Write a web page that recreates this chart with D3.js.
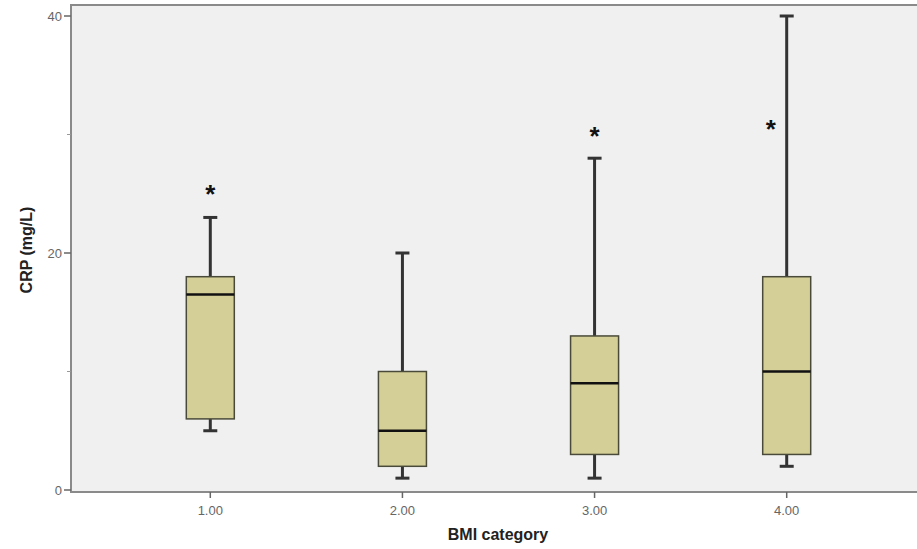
<!DOCTYPE html>
<html>
<head>
<meta charset="utf-8">
<script src="https://cdn.jsdelivr.net/npm/d3@7"></script>
<style>
  html, body { margin: 0; padding: 0; background: #fff; }
  svg { display: block; font-family: Arial, "Liberation Sans", sans-serif; }
</style>
</head>
<body>
<svg id="chart" width="917" height="549"></svg>
<script>
// BMI categories and their box summaries
const categories = ["1.00", "2.00", "3.00", "4.00"];
const lowerWhisker = [5, 1, 1, 2];
const q1 = [6, 2, 3, 3];
const median = [16.5, 5, 9, 10];
const q3 = [18, 10, 13, 18];
const upperWhisker = [23, 20, 28, 40];
// extreme outliers (SPSS star markers): [category index, value]
const extremes = [[0, 25.2], [2, 30.1], [3, 30.7]];
const yMajorTicks = [0, 20, 40];
const yMinorTicks = [10, 30];

const W = 917, H = 549;
const plot = { left: 71, top: 5, right: 926, bottom: 492 };

const svg = d3.select("#chart");

const x = d3.scalePoint().domain(categories).range([plot.left, plot.right]).padding(0.725);
const y = d3.scaleLinear().domain([0, 40]).range([490, 16]);

const BOX_W = 48;

// plot background
svg.append("rect")
  .attr("x", plot.left).attr("y", plot.top)
  .attr("width", plot.right - plot.left).attr("height", plot.bottom - plot.top)
  .attr("fill", "#f0f0f0")
  .attr("stroke", "#8a8a8a").attr("stroke-width", 2);

const boxes = categories.map((c, i) => ({
  c, lo: lowerWhisker[i], q1: q1[i], med: median[i], q3: q3[i], hi: upperWhisker[i]
}));

const g = svg.append("g");

// whiskers
g.selectAll("line.whisker-up").data(boxes).join("line")
  .attr("x1", d => x(d.c)).attr("x2", d => x(d.c))
  .attr("y1", d => y(d.q3)).attr("y2", d => y(d.hi))
  .attr("stroke", "#333").attr("stroke-width", 3);
g.selectAll("line.whisker-down").data(boxes).join("line")
  .attr("x1", d => x(d.c)).attr("x2", d => x(d.c))
  .attr("y1", d => y(d.q1)).attr("y2", d => y(d.lo))
  .attr("stroke", "#333").attr("stroke-width", 3);
// whisker caps
["hi", "lo"].forEach(k => {
  g.selectAll("line.cap-" + k).data(boxes).join("line")
    .attr("x1", d => x(d.c) - 7).attr("x2", d => x(d.c) + 7)
    .attr("y1", d => y(d[k])).attr("y2", d => y(d[k]))
    .attr("stroke", "#333").attr("stroke-width", 3);
});

// boxes
g.selectAll("rect.box").data(boxes).join("rect")
  .attr("x", d => x(d.c) - BOX_W / 2).attr("width", BOX_W)
  .attr("y", d => y(d.q3)).attr("height", d => y(d.q1) - y(d.q3))
  .attr("fill", "#d4cf96").attr("stroke", "#4a4a3a").attr("stroke-width", 1.5);

// medians
g.selectAll("line.median").data(boxes).join("line")
  .attr("x1", d => x(d.c) - BOX_W / 2).attr("x2", d => x(d.c) + BOX_W / 2)
  .attr("y1", d => y(d.med)).attr("y2", d => y(d.med))
  .attr("stroke", "#111").attr("stroke-width", 2.5);

// extreme markers; shifted left where the whisker passes through
g.selectAll("text.star").data(extremes).join("text")
  .attr("x", d => x(categories[d[0]]) + (upperWhisker[d[0]] > d[1] ? -16 : 0))
  .attr("y", d => y(d[1]) + 12)
  .attr("text-anchor", "middle")
  .attr("font-size", 26).attr("font-weight", "bold").attr("fill", "#111")
  .text("*");

// y axis ticks
const axisCol = "#666";
svg.selectAll("line.ymaj").data(yMajorTicks).join("line")
  .attr("x1", plot.left - 7).attr("x2", plot.left)
  .attr("y1", d => y(d)).attr("y2", d => y(d))
  .attr("stroke", axisCol).attr("stroke-width", 1.5);
svg.selectAll("line.ymin").data(yMinorTicks).join("line")
  .attr("x1", plot.left - 4).attr("x2", plot.left)
  .attr("y1", d => y(d)).attr("y2", d => y(d))
  .attr("stroke", "#999").attr("stroke-width", 1);
svg.selectAll("text.ylab").data(yMajorTicks).join("text")
  .attr("x", plot.left - 9).attr("y", d => y(d) + 4.5)
  .attr("text-anchor", "end").attr("font-size", 13).attr("fill", "#666")
  .text(d => d);

// x axis ticks
svg.selectAll("line.xt").data(categories).join("line")
  .attr("x1", d => x(d)).attr("x2", d => x(d))
  .attr("y1", plot.bottom).attr("y2", plot.bottom + 6)
  .attr("stroke", axisCol).attr("stroke-width", 1.5);
svg.selectAll("text.xlab").data(categories).join("text")
  .attr("x", d => x(d)).attr("y", plot.bottom + 23)
  .attr("text-anchor", "middle").attr("font-size", 13).attr("fill", "#666")
  .text(d => d);

// axis titles
svg.append("text")
  .attr("x", 498).attr("y", 540)
  .attr("text-anchor", "middle").attr("font-size", 16).attr("font-weight", "bold").attr("fill", "#222")
  .text("BMI category");
svg.append("text")
  .attr("transform", "translate(32,250) rotate(-90)")
  .attr("text-anchor", "middle").attr("font-size", 16).attr("font-weight", "bold").attr("fill", "#222")
  .text("CRP (mg/L)");
</script>
</body>
</html>
